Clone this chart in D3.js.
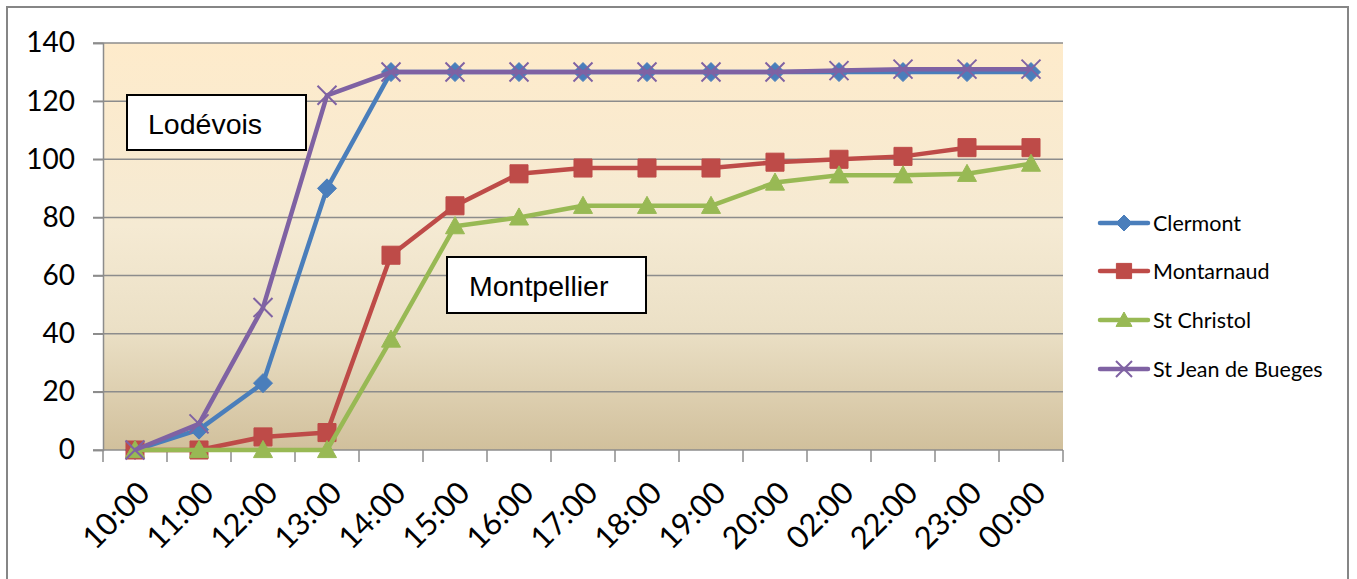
<!DOCTYPE html>
<html><head><meta charset="utf-8">
<script src="https://cdn.jsdelivr.net/npm/d3@7"></script>
<style>html,body{margin:0;padding:0;background:#fff;overflow:hidden}</style>
</head><body>
<svg id="c" width="1357" height="579"></svg>
<script>
const categories = ["10:00","11:00","12:00","13:00","14:00","15:00","16:00","17:00","18:00","19:00","20:00","02:00","22:00","23:00","00:00"];
const clermont   = [0, 7, 23, 90, 130, 130, 130, 130, 130, 130, 130, 130, 130, 130, 130];
const montarnaud = [0, 0, 4.5, 6, 67, 84, 95, 97, 97, 97, 99, 100, 101, 104, 104];
const stChristol = [0, 0, 0, 0, 38, 77, 80, 84, 84, 84, 92, 94.5, 94.5, 95, 98.5];
const stJean     = [0, 9, 49, 122, 130, 130, 130, 130, 130, 130, 130, 130.5, 131, 131, 131];
const seriesNames = ["Clermont","Montarnaud","St Christol","St Jean de Bueges"];
const yTicks = [0, 20, 40, 60, 80, 100, 120, 140];
const annotations = ["Lodévois","Montpellier"];

const series = [
  {name: seriesNames[0], values: clermont,   color: "#4a7ebb", marker: "diamond"},
  {name: seriesNames[1], values: montarnaud, color: "#be4b48", marker: "square"},
  {name: seriesNames[2], values: stChristol, color: "#98b954", marker: "triangle"},
  {name: seriesNames[3], values: stJean,     color: "#7f62a3", marker: "x"}
];

const svg = d3.select("#c");
const L = 103, R = 1063, T = 43, B = 450;
const x = d3.scaleBand().domain(categories).range([L, R]);
const y = d3.scaleLinear().domain([0, 140]).range([B, T]);
const cx = c => x(c) + x.bandwidth() / 2;

// outer border
svg.append("rect").attr("x", 7).attr("y", 7).attr("width", 1341).attr("height", 620)
  .attr("fill", "#fff").attr("stroke", "#868686").attr("stroke-width", 2);

// gradient
const defs = svg.append("defs");
const g = defs.append("linearGradient").attr("id", "bg").attr("x1", 0).attr("y1", 0).attr("x2", 0).attr("y2", 1);
[[0, "#feebcb"], [0.45, "#f5ead3"], [0.7, "#ebe0c6"], [1, "#d1c09c"]].forEach(s =>
  g.append("stop").attr("offset", s[0]).attr("stop-color", s[1]));
svg.append("rect").attr("x", L).attr("y", T).attr("width", R - L).attr("height", B - T).attr("fill", "url(#bg)");

// grid lines
svg.append("g").selectAll("line").data(yTicks.filter(t => t > 0)).join("line")
  .attr("x1", L - 10).attr("x2", R).attr("y1", d => y(d)).attr("y2", d => y(d))
  .attr("stroke", "#8c8c8c").attr("stroke-width", 1.5);

// y axis
const yAxis = d3.axisLeft(y).tickValues(yTicks).tickSize(10).tickPadding(18).tickFormat(d3.format("d"));
const ya = svg.append("g").attr("transform", `translate(${L},0)`).call(yAxis);
ya.select(".domain").attr("stroke", "#8c8c8c").attr("stroke-width", 1.5);
ya.selectAll(".tick line").attr("stroke", "#8c8c8c").attr("stroke-width", 1.5);
ya.selectAll("text").attr("font-family", "Lato, 'Open Sans', sans-serif").attr("font-size", 28).attr("fill", "#000");

// x axis line + ticks at band boundaries
svg.append("line").attr("x1", L - 10).attr("x2", R).attr("y1", B).attr("y2", B)
  .attr("stroke", "#8c8c8c").attr("stroke-width", 1.5);
const bounds = categories.map(c => x(c)).concat([x(categories[categories.length - 1]) + x.bandwidth()]);
svg.append("g").selectAll("line").data(bounds).join("line")
  .attr("x1", d => d).attr("x2", d => d).attr("y1", B).attr("y2", B + 12)
  .attr("stroke", "#8c8c8c").attr("stroke-width", 1.5);
svg.append("g").selectAll("text").data(categories).join("text")
  .attr("transform", d => `translate(${cx(d) + 9},${B + 37}) rotate(-45)`)
  .attr("text-anchor", "end").attr("dy", "0.35em")
  .attr("font-family", "Lato, 'Open Sans', sans-serif").attr("font-size", 31).attr("fill", "#000")
  .text(d => d);

// markers
function markerPath(type, s) {
  const p = d3.path();
  if (type === "diamond") { p.moveTo(0, -s); p.lineTo(s, 0); p.lineTo(0, s); p.lineTo(-s, 0); p.closePath(); }
  else if (type === "square") { p.rect(-s * 0.95, -s * 0.95, s * 1.9, s * 1.9); }
  else if (type === "triangle") { p.moveTo(0, -s); p.lineTo(s, s * 0.8); p.lineTo(-s, s * 0.8); p.closePath(); }
  else { p.moveTo(-s, -s); p.lineTo(s, s); p.moveTo(s, -s); p.lineTo(-s, s); }
  return p.toString();
}
function drawMarker(sel, sr, s) {
  sel.append("path").attr("d", markerPath(sr.marker, s))
    .attr("fill", sr.marker === "x" ? "none" : sr.color)
    .attr("stroke", sr.color).attr("stroke-width", sr.marker === "x" ? 2 : 1);
}

const line = d3.line().x((d, i) => cx(categories[i])).y(d => y(d));
series.forEach(sr => {
  const gg = svg.append("g");
  gg.append("path").attr("d", line(sr.values)).attr("fill", "none")
    .attr("stroke", sr.color).attr("stroke-width", 4.5).attr("stroke-linejoin", "round");
  sr.values.forEach((v, i) => {
    const m = gg.append("g").attr("transform", `translate(${cx(categories[i])},${y(v)})`);
    drawMarker(m, sr, 9.5);
  });
});

// annotation boxes
const boxes = [
  {text: annotations[0], x: 127, y: 95, w: 179, h: 55, tx: 148, ty: 134},
  {text: annotations[1], x: 447, y: 257, w: 199, h: 56, tx: 469, ty: 296}
];
boxes.forEach(b => {
  svg.append("rect").attr("x", b.x).attr("y", b.y).attr("width", b.w).attr("height", b.h)
    .attr("fill", "#fff").attr("stroke", "#000").attr("stroke-width", 2);
  svg.append("text").attr("x", b.tx).attr("y", b.ty).attr("font-family", "'Liberation Sans', Arial, sans-serif")
    .attr("font-size", 28.5).attr("fill", "#000").text(b.text);
});

// legend
const legY = [223, 271, 320, 369];
series.forEach((sr, i) => {
  const lg = svg.append("g").attr("transform", `translate(1100,${legY[i]})`);
  lg.append("line").attr("x1", 0).attr("x2", 48).attr("y1", 0).attr("y2", 0)
    .attr("stroke", sr.color).attr("stroke-width", 4.5).attr("stroke-linecap", "round");
  const m = lg.append("g").attr("transform", "translate(24,0)");
  drawMarker(m, sr, 8);
  lg.append("text").attr("x", 53).attr("y", 0).attr("dy", "0.35em")
    .attr("font-family", "Lato, 'Open Sans', sans-serif").attr("font-size", 21.5).attr("fill", "#000").text(sr.name);
});
</script>
</body></html>
